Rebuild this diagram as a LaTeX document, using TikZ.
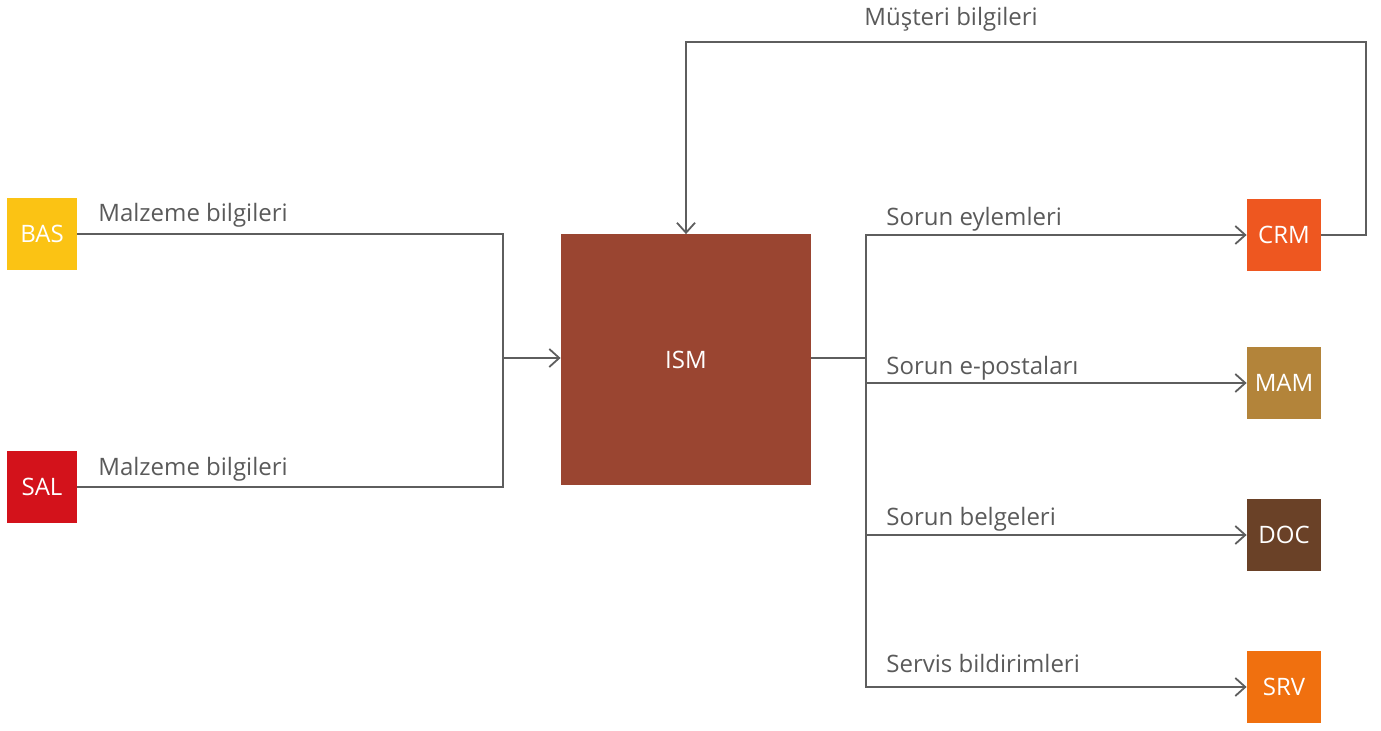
\documentclass[tikz,border=0pt]{standalone}
\usepackage{fontspec}
\setmainfont{Open Sans}
\usetikzlibrary{positioning, arrows.meta, calc}
\definecolor{sysYellow}{HTML}{FBC314}
\definecolor{sysRed}{HTML}{D3121B}
\definecolor{sysBrown}{HTML}{9A4531}
\definecolor{sysOrangeRed}{HTML}{EE5720}
\definecolor{sysGold}{HTML}{B3843A}
\definecolor{sysDark}{HTML}{6A4127}
\definecolor{sysOrange}{HTML}{F0700F}
\definecolor{flowGray}{HTML}{5E5E5E}
\definecolor{textGray}{HTML}{5A5A5A}

\begin{document}
\begin{tikzpicture}[
    x=0.5pt, y=-0.5pt,
    sysbox/.style={rectangle, minimum width=35pt, minimum height=36pt, inner sep=0pt, text=white, font=\fontsize{12}{14}\selectfont},
    hubbox/.style={rectangle, minimum width=125pt, minimum height=125.5pt, inner sep=0pt, fill=sysBrown, text=white, font=\fontsize{12}{14}\selectfont},
    flowlabel/.style={anchor=base west, inner sep=0pt, text=textGray, font=\fontsize{12}{14}\selectfont},
    >={Straight Barb[length=5pt, width=9pt]},
    line/.style={draw=flowGray, line width=0.9pt},
]
\useasboundingbox (0,0) rectangle (1381,731);
% systems
\node[sysbox, fill=sysYellow]    (bas) at (42, 234)   {BAS};
\node[sysbox, fill=sysRed]       (sal) at (42, 487)   {SAL};
\node[hubbox]                    (ism) at (686, 360)  {ISM};
\node[sysbox, fill=sysOrangeRed, minimum width=37pt] (crm) at (1284, 235) {CRM};
\node[sysbox, fill=sysGold,      minimum width=37pt] (mam) at (1284, 383) {MAM};
\node[sysbox, fill=sysDark,      minimum width=37pt] (doc) at (1284, 535) {DOC};
\node[sysbox, fill=sysOrange,    minimum width=37pt] (srv) at (1284, 687) {SRV};
% junctions
\coordinate (jL)   at (503, 358);
\coordinate (jR)   at (866, 358);
\coordinate (cTop) at (1366, 42);
% flows
\draw[line] (bas) -| (jL);
\draw[line] (sal) -| (jL);
\draw[line, ->] (jL) -- (ism.west |- jL);
\draw[line] (ism.east |- jR) -- (jR);
\draw[line, ->] (jR) |- (crm.west);
\draw[line, ->] (jR) |- (mam.west);
\draw[line, ->] (jR) |- (doc.west);
\draw[line, ->] (jR) |- (srv.west);
\draw[line, ->] (crm.east) -| (cTop) -| (ism.north);
% labels
\node[flowlabel] (lbBas) at (98, 222)  {Malzeme bilgileri};
\node[flowlabel] (lbSal) at (98, 476)  {Malzeme bilgileri};
\node[flowlabel] (lbCus) at (864, 26)  {Müşteri bilgileri};
\node[flowlabel] (lbAct) at (886, 226) {Sorun eylemleri};
\node[flowlabel] (lbMai) at (886, 375) {Sorun e-postaları};
\node[flowlabel] (lbDoc) at (886, 526) {Sorun belgeleri};
\node[flowlabel] (lbSrv) at (886, 672) {Servis bildirimleri};
\end{tikzpicture}
\end{document}
